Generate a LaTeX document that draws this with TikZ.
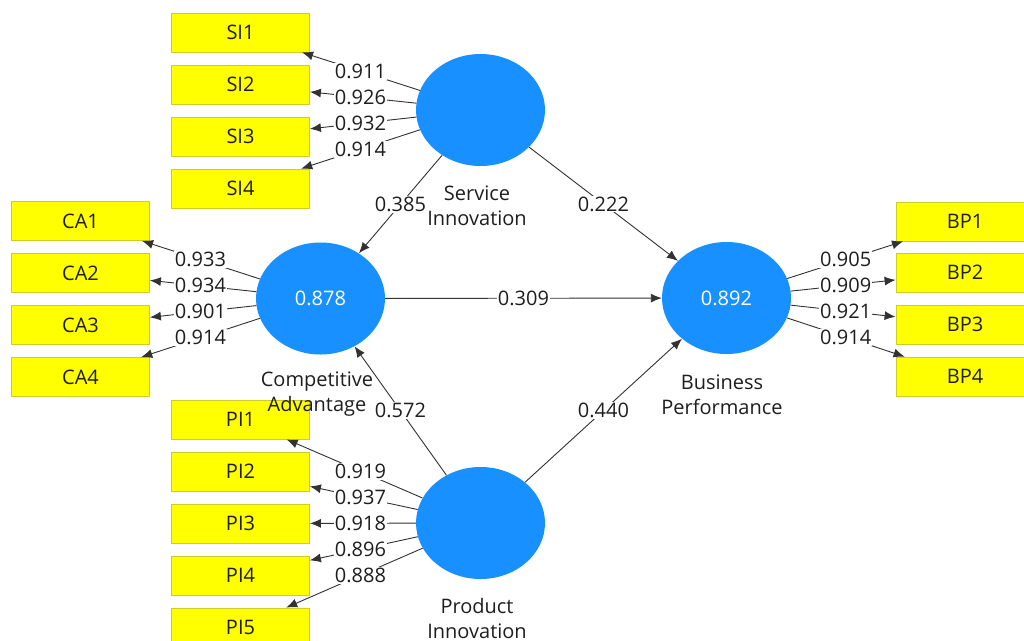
\documentclass[tikz,border=0pt]{standalone}
\usepackage{fontspec}
\setmainfont{Open Sans}
\usetikzlibrary{shapes.geometric,arrows.meta,calc}
\definecolor{lvblue}{RGB}{24,144,255}
\definecolor{ind}{RGB}{255,255,0}
\definecolor{indb}{RGB}{205,205,40}
\definecolor{txt}{RGB}{30,30,30}
\definecolor{ln}{RGB}{50,50,50}
\tikzset{
  lv/.style={ellipse,fill=lvblue,draw=none,minimum width=129pt,minimum height=112pt,inner sep=0pt,text=white,font=\fontsize{20}{25}\selectfont},
  mv/.style={rectangle,fill=ind,draw=indb,line width=0.8pt,minimum width=138pt,minimum height=39pt,inner sep=0pt,text=txt,font=\fontsize{20}{25}\selectfont},
  lvname/.style={align=center,text=txt,font=\fontsize{20}{25}\selectfont},
  coef/.style={fill=white,inner sep=1pt,text=txt,font=\fontsize{20}{24}\selectfont},
  arr/.style={draw=ln,line width=0.9pt,-{Latex[length=11pt,width=9pt]}},
}
\begin{document}
\begin{tikzpicture}[x=1pt,y=-1pt]
\useasboundingbox (0,0) rectangle (1024,640);
\fill[white] (0,0) rectangle (1024,640);
\clip (0,0) rectangle (1024,640);
% latent variables
\node[lv] (si) at (480.5,110) {};
\node[lv] (ca) at (320.5,298.5) {0.878};
\node[lv] (bp) at (726.5,298) {0.892};
\node[lv] (pi) at (480.5,523) {};
% indicators
\node[mv] (si1) at (240.5,32.5) {SI1};
\node[mv] (si2) at (240.5,84.5) {SI2};
\node[mv] (si3) at (240.5,136.5) {SI3};
\node[mv] (si4) at (240.5,188.5) {SI4};
\node[mv] (ca1) at (80.5,221) {CA1};
\node[mv] (ca2) at (80.5,273) {CA2};
\node[mv] (ca3) at (80.5,325) {CA3};
\node[mv] (ca4) at (80.5,377) {CA4};
\node[mv] (pi1) at (240.5,419.5) {PI1};
\node[mv] (pi2) at (240.5,471.5) {PI2};
\node[mv] (pi3) at (240.5,523.5) {PI3};
\node[mv] (pi4) at (240.5,575.5) {PI4};
\node[mv] (pi5) at (240.5,627.5) {PI5};
\node[mv] (bp1) at (965,221.5) {BP1};
\node[mv] (bp2) at (965,272.5) {BP2};
\node[mv] (bp3) at (965,324.5) {BP3};
\node[mv] (bp4) at (965,376.5) {BP4};
% outer loadings
\foreach \a/\b/\v in {si/si1/0.911,si/si2/0.926,si/si3/0.932,si/si4/0.914,
  ca/ca1/0.933,ca/ca2/0.934,ca/ca3/0.901,ca/ca4/0.914,
  pi/pi1/0.919,pi/pi2/0.937,pi/pi3/0.918,pi/pi4/0.896,pi/pi5/0.888,
  bp/bp1/0.905,bp/bp2/0.909,bp/bp3/0.921,bp/bp4/0.914}{
  \draw[arr] (\a) -- (\b);
  \node[coef] at ($(\a)!0.5!(\b)$) {\v};
}
% structural paths
\foreach \a/\b/\v in {si/ca/0.385,si/bp/0.222,ca/bp/0.309,pi/ca/0.572,pi/bp/0.440}{
  \draw[arr] (\a) -- (\b);
  \node[coef] at ($(\a)!0.5!(\b)$) {\v};
}
% names
\node[lvname] (sin) at (477,205.5) {Service\\Innovation};
\node[lvname] (can) at (317,394.5) {Competitive\\Advantage};
\node[lvname] (bpn) at (722,394.5) {Business\\Performance};
\node[lvname] (pin) at (477,618.5) {Product\\Innovation};
\end{tikzpicture}
\end{document}
